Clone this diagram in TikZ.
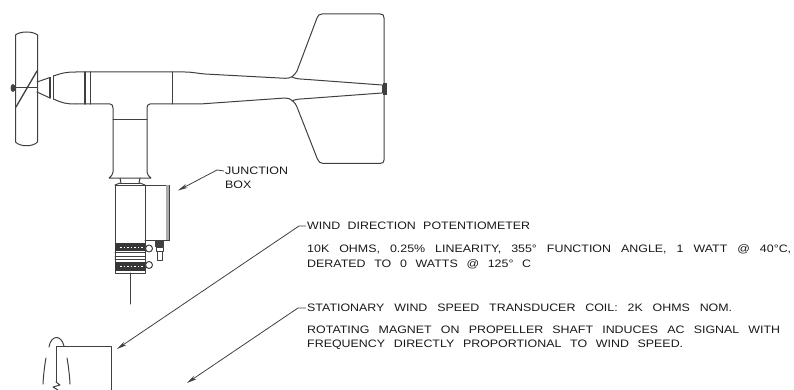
\documentclass[tikz,border=0pt]{standalone}
\usepackage{fontspec}
\setmainfont[FakeStretch=1.15]{Liberation Sans}
\usetikzlibrary{arrows.meta}
\definecolor{ink}{gray}{0.25}
\tikzset{
  ln/.style={draw=ink,line width=1pt,line join=round,line cap=round},
  lead/.style={draw=ink,line width=0.8pt,-{Stealth[length=10pt,width=4.2pt]}},
  lbl/.style={anchor=west,inner sep=0pt,text=black!90,font=\fontsize{10.8}{12}\selectfont}
}
\newcommand{\fitline}[2]{\makebox[#1pt][s]{#2}}
\begin{document}
\begin{tikzpicture}[x=1pt,y=-1pt]
\useasboundingbox (0,0) rectangle (794,390);
% propeller
\draw[ln] (15.5,35) .. controls (20,31) and (33,31) .. (37.5,35) -- (37.5,142) .. controls (33,147) and (20,147) .. (15.5,142) -- cycle;
\draw[ln,line width=1.3pt] (16,107) -- (37,71);
\draw[ln] (13,88) -- (37,88);
\fill[ink] (13,88) ellipse (2.4 and 4);
% nose
\draw[ln] (37,82) -- (50,77.5);
\draw[ln] (37,92) -- (50,98);
\draw[ln,line width=1.3pt] (50,77.5) -- (50,98);
\draw[ln,line width=1.5pt] (53.5,76) -- (53.5,99);
\draw[ln] (53.5,76) .. controls (62,73) and (66,72) .. (76,72);
\draw[ln] (53.5,99) .. controls (62,103) and (66,104) .. (76,104);
% boom
\draw[ln] (76,72) -- (185,72) .. controls (192,72) and (196,73.2) .. (205,74) -- (285,78.3) .. controls (291,78.5) and (294,76) .. (297,71) -- (317,18) .. controls (318,15.5) and (319,14) .. (322,14) -- (380,14) .. controls (383,14) and (384,15) .. (384,18) -- (384,160) .. controls (384,162) and (383,163.5) .. (380,163.5) -- (323,163.5) .. controls (320,163.5) and (319,162) .. (317,158) -- (297,107) .. controls (295,102) and (291,98) .. (285,98) -- (200,104) -- (150,104) .. controls (148,104) and (147,105.5) .. (147,108) -- (147,172) .. controls (147,175) and (149,176) .. (151,178) -- (109,178) .. controls (111,176) and (113,175) .. (113,172) -- (113,108) .. controls (113,105.5) and (112,104) .. (110,104) -- (76,104);
\draw[ln,line width=1.4pt] (85,72) -- (85,104);
\draw[ln,line width=1.4pt] (90.5,72) -- (90.5,104);
\draw[ln] (172.5,72) -- (172.5,104);
\draw[ln] (113,120) -- (147,120);
% tail inner
\draw[ln] (292,77) .. controls (296,79) and (300,79) .. (305,79.3) -- (382,85);
\draw[ln] (292,101) .. controls (296,99) and (300,99) .. (305,98.7) -- (382,93);
\draw[ln] (382,85) -- (382,93);
\fill[ink] (383,83) rectangle (386.5,95);
% neck and housing
\draw[ln] (120,178) -- (121,183);
\draw[ln] (140,178) -- (139,183);
\draw[ln] (120,183) -- (140,183);
\draw[ln] (115,185) rectangle (145,273);
\draw[ln] (115,185) -- (120,183);
\draw[ln] (145,185) -- (140,183);
% junction box
\draw[ln] (145,185) -- (169,185) -- (169,240) -- (145,240);
\fill[gray!65] (166,185) rectangle (169,240);
% bands
\fill[ink!85!black] (115,243) rectangle (145,251);
\fill[ink!85!black] (115,262) rectangle (145,271);
\draw[ln] (115,252) -- (145,252);
\draw[ln] (115,256) -- (145,256);
\draw[ln] (115,259) -- (145,259);
\draw[white,line width=0.8pt,dash pattern=on 1.5pt off 2pt] (120,247) -- (143,247);
\draw[white,line width=0.8pt,dash pattern=on 1.5pt off 2pt] (120,266) -- (143,266);
\draw[ln] (149,248.5) circle (3.5);
\draw[ln] (149,265) circle (3.5);
% connector under the box
\fill[ink] (155,241) rectangle (164,247);
\draw[ln] (156,247) rectangle (163,251);
\draw[ln] (157,251) rectangle (162,260);
% rod
\draw[ln] (130,273) -- (130,304);
% lower figure
\draw[ln] (56,382) -- (56,346) -- (111,346) -- (111,390);
\draw[ln] (49,347) .. controls (51,335) and (61,334) .. (64,346);
\draw[ln] (43,384) .. controls (43.5,375) and (44.5,366) .. (46,358);
\draw[ln] (70,384) .. controls (69.5,375) and (68.5,366) .. (67,358);
\draw[ln] (56,382) -- (60,385) -- (53,387) -- (58,390);
% labels
\node[lbl] (jb1) at (225,171) {\fitline{64}{JUNCTION}};
\node[lbl] (jb2) at (225,185) {BOX};
\node[lbl] (wd) at (307,226) {\fitline{223}{WIND DIRECTION POTENTIOMETER}};
\node[lbl] (wd1) at (307,249) {\fitline{484}{10K OHMS, 0.25\% LINEARITY, 355° FUNCTION ANGLE, 1 WATT @ 40°C,}};
\node[lbl] (wd2) at (307,264) {\fitline{224}{DERATED TO 0 WATTS @ 125° C}};
\node[lbl] (sc) at (307,308) {\fitline{425}{STATIONARY WIND SPEED TRANSDUCER COIL: 2K OHMS NOM.}};
\node[lbl] (sc1) at (307,330) {\fitline{473}{ROTATING MAGNET ON PROPELLER SHAFT INDUCES AC SIGNAL WITH}};
\node[lbl] (sc2) at (307,345) {\fitline{376}{FREQUENCY DIRECTLY PROPORTIONAL TO WIND SPEED.}};
% leaders
\coordinate (jbk) at (217,170);
\coordinate (jbt) at (178,190.5);
\coordinate (wdk) at (299,226);
\coordinate (wdt) at (117,349);
\coordinate (sck) at (298,308);
\coordinate (sct) at (187,383);
\draw[lead] ([xshift=-1pt]jb1.west) -- (jbk) -- (jbt);
\draw[lead] ([xshift=-1pt]wd.west) -- (wdk) -- (wdt);
\draw[lead] ([xshift=-1pt]sc.west) -- (sck) -- (sct);
\end{tikzpicture}
\end{document}
